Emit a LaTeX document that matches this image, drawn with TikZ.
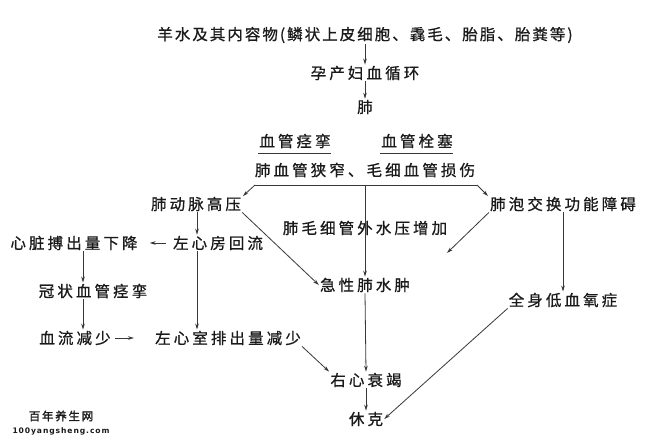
\documentclass[tikz,border=0pt]{standalone}
\usepackage{fontspec}
\usetikzlibrary{arrows.meta,calc}
\newfontfamily\cjk[LetterSpace=20,FakeBold=0.8]{Noto Sans CJK SC}
\newfontfamily\cjktitle[LetterSpace=13,FakeBold=0.8]{Noto Sans CJK SC}
\newfontfamily\wmfont[LetterSpace=15,FakeBold=1.5]{Noto Sans CJK SC}
\newfontfamily\urlfont[LetterSpace=12]{DejaVu Sans}
\definecolor{txt}{HTML}{1A1A1A}
\definecolor{ln}{HTML}{383838}
\tikzset{
  lbl/.style={inner sep=1pt, text=txt, font=\cjk\fontsize{15.5}{18}\selectfont},
  conn/.style={draw=ln, line width=0.8pt, -{Stealth[length=6pt,width=3.6pt]}},
  uline/.style={draw=ln, line width=0.8pt},
}
\begin{document}
\begin{tikzpicture}[x=1pt,y=-1pt]
\useasboundingbox[fill=white] (0,0) rectangle (656,444);
% nodes
\node[lbl, font=\cjktitle\fontsize{15.5}{18}\selectfont] (t1) at (365,35) {羊水及其内容物(鳞状上皮细胞、毳毛、胎脂、胎粪等)};
\node[lbl] (t2) at (365,73) {孕产妇血循环};
\node[lbl] (t3) at (365,107) {肺};
\node[lbl] (a1) at (295,141) {血管痉挛};
\node[lbl] (a2) at (417,141) {血管栓塞};
\node[lbl] (t4) at (365,170) {肺血管狭窄、毛细血管损伤};
\node[lbl] (b1) at (196,204) {肺动脉高压};
\node[lbl] (b2) at (563,204) {肺泡交换功能障碍};
\node[lbl] (b3) at (365,228) {肺毛细管外水压增加};
\node[lbl] (c1) at (218,243) {左心房回流};
\node[lbl] (c2) at (74,243) {心脏搏出量下降};
\node[lbl] (c3) at (93,291) {冠状血管痉挛};
\node[lbl] (c4) at (75,338) {血流减少};
\node[lbl] (c5) at (228,338) {左心室排出量减少};
\node[lbl] (d1) at (365,285) {急性肺水肿};
\node[lbl] (d2) at (563,300) {全身低血氧症};
\node[lbl] (e1) at (366,380) {右心衰竭};
\node[lbl] (e2) at (366,419) {休克};
\node[inner sep=0pt, text=txt, font=\wmfont\fontsize{11.5}{13}\selectfont] (w1) at (61,416) {百年养生网};
\node[inner sep=0pt, text=txt, font=\urlfont\bfseries\fontsize{7.6}{9}\selectfont] (w2) at (61,431) {100yangsheng.com};
% underlines
\draw[uline] (258,153) -- (331,153);
\draw[uline] (380,153) -- (453,153);
\coordinate (ul) at (255,185);
\coordinate (ur) at (477,185);
\coordinate (um) at (365,185);
\draw[uline] (ul) -- (ur);
\coordinate (b2end) at (447,253);
% connectors
\draw[conn] (t1.south) -- (t2.north);
\draw[conn] (t2.south) -- (t3.north);
\draw[conn] (ul) -- (243,196);
\draw[conn] (ur) -- (488,196);
\draw[conn] (um) -- (d1.north);
\draw[conn] (b2.south west) -- (b2end);
\draw[conn] (b1.south east) -- (d1.west);
\draw[conn] (b1.south -| 197,0) -- (c1.north -| 197,0);
\draw[conn] ([xshift=-6pt]c1.west) -- ([xshift=11pt]c2.east);
\draw[conn] (c1.south -| 197,0) -- (c5.north -| 197,0);
\draw[conn] (c2.south -| 83,0) -- (c3.north -| 83,0);
\draw[conn] (c3.south -| 83,0) -- (c4.north -| 83,0);
\draw[conn] ([xshift=3pt]c4.east) -- ([xshift=-20pt]c5.west);
\draw[conn] (c5.south east) -- (e1.north west);
\draw[conn] (d1.south) -- (e1.north);
\draw[conn] (e1.south) -- (e2.north);
\draw[conn] (b2.south) -- (d2.north);
\draw[conn] (d2.south west) -- (e2.east);
\end{tikzpicture}
\end{document}
